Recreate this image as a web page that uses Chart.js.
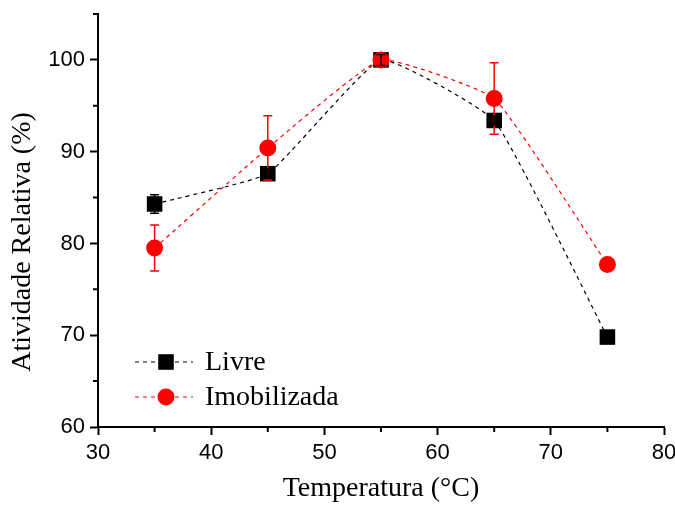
<!DOCTYPE html>
<html lang="pt">
<head>
<meta charset="UTF-8">
<title>Atividade Relativa x Temperatura</title>
<script src="https://cdn.jsdelivr.net/npm/chart.js@4.4.0/dist/chart.umd.min.js"></script>
<style>
    html, body { margin: 0; padding: 0; background: #fff; }
</style>
</head>
<body>
<canvas id="chart" width="675" height="505"></canvas>
<script>
    // dados
    var temperaturas = [35, 45, 55, 65, 75];
    var livre = [84.3, 87.6, 100, 93.4, 69.8];
    var livreErro = [1.0, 0.5, 0.6, 0.5, 0];
    var imobilizada = [79.5, 90.4, 100, 95.8, 77.7];
    var imobilizadaErro = [2.5, 3.5, 0.4, 3.9, 0];
    var xMenores = [35, 45, 55, 65, 75];
    var yMenores = [65, 75, 85, 95, 105];

    var serif = "'Liberation Serif', 'Times New Roman', serif";
    var sans = "'Liberation Sans', Arial, sans-serif";

    function pontos(valores) {
        return temperaturas.map(function (t, i) {
            return {x: t, y: valores[i]};
        });
    }

    function semPadding(s) {
        s.paddingTop = 0;
        s.paddingBottom = 0;
        s.paddingLeft = 0;
        s.paddingRight = 0;
    }

    var extras = {
        id: 'extras',
        afterDatasetsDraw: function (chart) {
            var ctx = chart.ctx, xs = chart.scales.x, ys = chart.scales.y;
            ctx.save();
            function barras(valores, erros, cor) {
                ctx.strokeStyle = cor;
                ctx.lineWidth = 1.5;
                for (var i = 0; i < valores.length; i++) {
                    if (!erros[i]) continue;
                    var px = xs.getPixelForValue(temperaturas[i]);
                    var topo = ys.getPixelForValue(valores[i] + erros[i]);
                    var base = ys.getPixelForValue(valores[i] - erros[i]);
                    ctx.beginPath();
                    ctx.moveTo(px, topo); ctx.lineTo(px, base);
                    ctx.moveTo(px - 4.5, topo); ctx.lineTo(px + 4.5, topo);
                    ctx.moveTo(px - 4.5, base); ctx.lineTo(px + 4.5, base);
                    ctx.stroke();
                }
            }
            barras(imobilizada, imobilizadaErro, '#ff0000');
            barras(livre, livreErro, '#000000');
            ctx.restore();
        },
        afterDraw: function (chart) {
            var ctx = chart.ctx, xs = chart.scales.x, ys = chart.scales.y;
            var area = chart.chartArea;
            ctx.save();
            // ticks menores
            ctx.strokeStyle = '#000';
            ctx.lineWidth = 2;
            ctx.beginPath();
            xMenores.forEach(function (v) {
                var px = xs.getPixelForValue(v);
                ctx.moveTo(px, area.bottom); ctx.lineTo(px, area.bottom + 5);
            });
            yMenores.forEach(function (v) {
                var py = ys.getPixelForValue(v);
                ctx.moveTo(area.left, py); ctx.lineTo(area.left - 5, py);
            });
            ctx.stroke();

            // titulo do eixo y
            ctx.fillStyle = '#000';
            ctx.font = '28px ' + serif;
            ctx.textAlign = 'center';
            ctx.textBaseline = 'middle';
            ctx.translate(23, 242);
            ctx.rotate(-Math.PI / 2);
            ctx.fillText('Atividade Relativa (%)', 0, 0);
            ctx.restore();

            // legenda
            ctx.save();
            var itens = [
                {texto: 'Livre', cor: '#000000', estilo: 'rect', raio: 11, y: 362},
                {texto: 'Imobilizada', cor: '#ff0000', estilo: 'circle', raio: 8.5, y: 397}
            ];
            itens.forEach(function (it) {
                ctx.strokeStyle = it.cor;
                ctx.lineWidth = 1.2;
                ctx.setLineDash([4, 4]);
                ctx.beginPath();
                ctx.moveTo(135, it.y); ctx.lineTo(193, it.y);
                ctx.stroke();
                ctx.setLineDash([]);
                ctx.fillStyle = it.cor;
                Chart.helpers.drawPoint(ctx, {pointStyle: it.estilo, radius: it.raio, rotation: 0, borderWidth: 0}, 166, it.y);
                ctx.fillStyle = '#000';
                ctx.font = '28px ' + serif;
                ctx.textAlign = 'left';
                ctx.textBaseline = 'middle';
                ctx.fillText(it.texto, 205, it.y + 1);
            });
            ctx.restore();
        }
    };

    new Chart(document.getElementById('chart'), {
        type: 'line',
        data: {
            datasets: [
                {
                    label: 'Livre',
                    data: pontos(livre),
                    borderColor: '#000000',
                    borderWidth: 1.2,
                    borderDash: [4, 4],
                    pointStyle: 'rect',
                    pointRadius: 11,
                    pointBackgroundColor: '#000000',
                    pointBorderWidth: 0,
                    tension: 0.12,
                    order: 1
                },
                {
                    label: 'Imobilizada',
                    data: pontos(imobilizada),
                    borderColor: '#ff0000',
                    borderWidth: 1.2,
                    borderDash: [4, 4],
                    pointStyle: 'circle',
                    pointRadius: 8.5,
                    pointBackgroundColor: '#ff0000',
                    pointBorderWidth: 0,
                    tension: 0.12,
                    order: 0
                }
            ]
        },
        options: {
            responsive: false,
            devicePixelRatio: 1,
            animation: false,
            layout: {padding: {top: 14, right: 11, left: 0, bottom: 0}},
            plugins: {
                legend: {display: false},
                tooltip: {enabled: false}
            },
            scales: {
                x: {
                    type: 'linear',
                    min: 30,
                    max: 80,
                    ticks: {stepSize: 10, color: '#000', padding: 5, autoSkip: false, maxRotation: 0,
                        font: {family: sans, size: 22}},
                    grid: {drawOnChartArea: false, drawTicks: true, tickLength: 8, tickWidth: 2, tickColor: '#000'},
                    border: {display: true, color: '#000', width: 2},
                    title: {display: true, text: 'Temperatura (°C)', color: '#000', padding: 0,
                        font: {family: serif, size: 28}},
                    afterFit: function (s) { s.height = 78; semPadding(s); }
                },
                y: {
                    min: 60,
                    max: 105,
                    ticks: {stepSize: 10, includeBounds: false, color: '#000', padding: 5,
                        font: {family: sans, size: 22}},
                    grid: {drawOnChartArea: false, drawTicks: true, tickLength: 8, tickWidth: 2, tickColor: '#000'},
                    border: {display: true, color: '#000', width: 2},
                    afterFit: function (s) { s.width = 98; semPadding(s); }
                }
            }
        },
        plugins: [extras]
    });
</script>
</body>
</html>
